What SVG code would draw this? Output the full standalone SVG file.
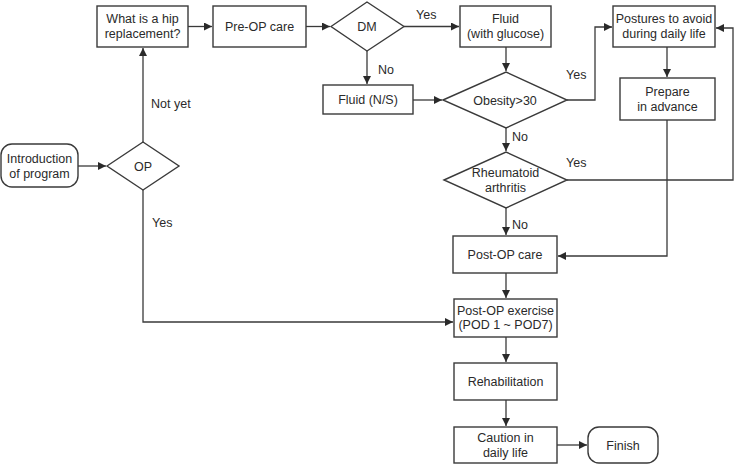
<svg xmlns="http://www.w3.org/2000/svg" width="735" height="465" viewBox="0 0 735 465">
<defs>
<style>
.n{fill:#fff;stroke:#3a3a3a;stroke-width:1.4}
.c{fill:none;stroke:#3a3a3a;stroke-width:1.3}
text{font-family:"Liberation Sans",Arial,sans-serif;font-size:12.5px;fill:#2a2a2a}
.m{text-anchor:middle}
</style>
<marker id="a" viewBox="0 0 10 10" refX="10" refY="5" markerWidth="8" markerHeight="8" markerUnits="userSpaceOnUse" orient="auto"><path d="M0,0L10,5L0,10z" fill="#2a2a2a"/></marker>
</defs>
<rect width="735" height="465" fill="#fff"/>
<g id="connectors">
<path class="c" d="M78,166H106" marker-end="url(#a)"/>
<path class="c" d="M143,142V48" marker-end="url(#a)"/>
<path class="c" d="M188,26.5H212" marker-end="url(#a)"/>
<path class="c" d="M306,26.5H330" marker-end="url(#a)"/>
<path class="c" d="M404,26.5H459" marker-end="url(#a)"/>
<path class="c" d="M367,51V84" marker-end="url(#a)"/>
<path class="c" d="M413,100H442" marker-end="url(#a)"/>
<path class="c" d="M506,47V71" marker-end="url(#a)"/>
<path class="c" d="M567,100H595V27H612" marker-end="url(#a)"/>
<path class="c" d="M667,47V77" marker-end="url(#a)"/>
<path class="c" d="M506,128V151" marker-end="url(#a)"/>
<path class="c" d="M567,180H733V28H716" marker-end="url(#a)"/>
<path class="c" d="M506,208V235" marker-end="url(#a)"/>
<path class="c" d="M667,120V256H558" marker-end="url(#a)"/>
<path class="c" d="M506,273V298" marker-end="url(#a)"/>
<path class="c" d="M143,190V322H453" marker-end="url(#a)"/>
<path class="c" d="M506,337V362" marker-end="url(#a)"/>
<path class="c" d="M506,400V426" marker-end="url(#a)"/>
<path class="c" d="M557,445H587" marker-end="url(#a)"/>
<text x="151" y="108">Not yet</text>
<text x="152" y="227">Yes</text>
<text x="416" y="19">Yes</text>
<text x="378" y="74">No</text>
<text x="566" y="79">Yes</text>
<text x="512" y="141">No</text>
<text x="566" y="167">Yes</text>
<text x="512" y="229">No</text>
</g>
<g id="intro"><rect class="n" x="1" y="144" width="77" height="43" rx="11"/><text class="m" x="39.5" y="162.5">Introduction</text><text class="m" x="39.5" y="177.5">of program</text></g>
<g id="op"><path class="n" d="M107,166L143,142L179,166L143,190z"/><text class="m" x="143" y="170.5">OP</text></g>
<g id="what"><rect class="n" x="97" y="6" width="91" height="41"/><text class="m" x="142.5" y="23">What is a hip</text><text class="m" x="142.5" y="38">replacement?</text></g>
<g id="preop"><rect class="n" x="213" y="6" width="93" height="41"/><text class="m" x="259.5" y="31">Pre-OP care</text></g>
<g id="dm"><path class="n" d="M331,26.5L367,2L404,26.5L367,51z"/><text class="m" x="367" y="31">DM</text></g>
<g id="fluidg"><rect class="n" x="460" y="6" width="91" height="41"/><text class="m" x="505.5" y="23">Fluid</text><text class="m" x="505.5" y="38">(with glucose)</text></g>
<g id="postures"><rect class="n" x="613" y="6" width="102" height="41"/><text class="m" x="664" y="23">Postures to avoid</text><text class="m" x="664" y="38">during daily life</text></g>
<g id="fluidns"><rect class="n" x="323" y="85" width="90" height="29"/><text class="m" x="368" y="104">Fluid (N/S)</text></g>
<g id="obesity"><path class="n" d="M443,100L506,72L567,100L506,128z"/><text class="m" x="505" y="104.5">Obesity&gt;30</text></g>
<g id="prepare"><rect class="n" x="620" y="78" width="95" height="42"/><text class="m" x="667.5" y="96">Prepare</text><text class="m" x="667.5" y="111">in advance</text></g>
<g id="rheum"><path class="n" d="M444,180L506,152L567,180L506,208z"/><text class="m" x="505.5" y="177">Rheumatoid</text><text class="m" x="505.5" y="192">arthritis</text></g>
<g id="postopcare"><rect class="n" x="453" y="236" width="104" height="37"/><text class="m" x="505" y="259">Post-OP care</text></g>
<g id="postopex"><rect class="n" x="454" y="299" width="103" height="38"/><text class="m" x="505.5" y="314.5">Post-OP exercise</text><text class="m" x="505.5" y="328.5">(POD 1 ~ POD7)</text></g>
<g id="rehab"><rect class="n" x="454" y="363" width="103" height="37"/><text class="m" x="505.5" y="386">Rehabilitation</text></g>
<g id="caution"><rect class="n" x="454" y="427" width="103" height="36"/><text class="m" x="505.5" y="442">Caution in</text><text class="m" x="505.5" y="457">daily life</text></g>
<g id="finish"><rect class="n" x="588" y="427" width="70" height="36" rx="11"/><text class="m" x="623" y="449.5">Finish</text></g>
</svg>
